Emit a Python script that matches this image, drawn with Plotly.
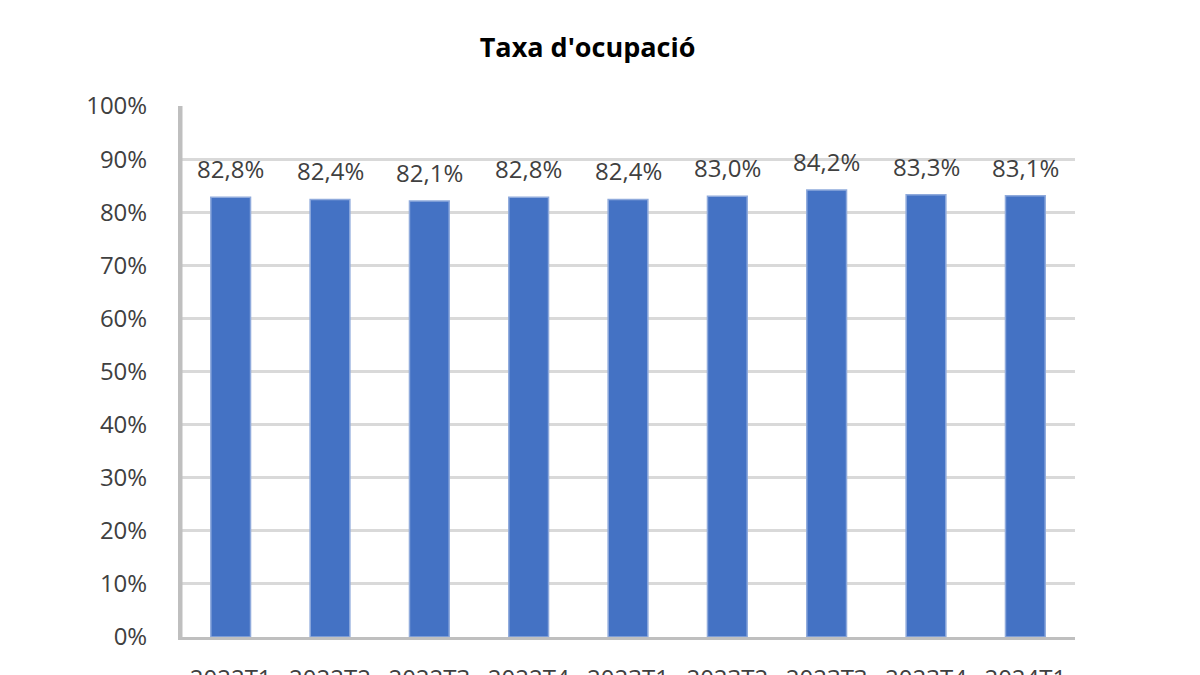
import plotly.graph_objects as go

categories = ["2022T1", "2022T2", "2022T3", "2022T4", "2023T1", "2023T2", "2023T3", "2023T4", "2024T1"]
values = [82.8, 82.4, 82.1, 82.8, 82.4, 83.0, 84.2, 83.3, 83.1]
labels = [f"{v:.1f}%".replace(".", ",") for v in values]
yticks = list(range(0, 101, 10))
ytick_text = [f"{t}%" for t in yticks]

FONT = "Open Sans"

fig = go.Figure(go.Bar(
    x=categories, y=values,
    marker=dict(color="#4472C4", line=dict(color="#8faadc", width=1.5)),
    hoverinfo="skip",
))

for c, v, t in zip(categories, values, labels):
    fig.add_annotation(x=c, y=v, text=t, showarrow=False, yanchor="bottom", yshift=10,
                       font=dict(size=24, color="#404040", family=FONT))

fig.update_layout(
    width=1200, height=675,
    paper_bgcolor="white", plot_bgcolor="white",
    margin=dict(l=173, r=133, t=98, b=46, autoexpand=False),
    bargap=0.6,
    showlegend=False,
    title=dict(text="<b>Taxa d'ocupació</b>", x=0.483, xanchor="center", y=1 - 40 / 675, yanchor="middle",
               font=dict(size=27, color="#000000", family=FONT)),
    font=dict(family=FONT, color="#404040"),
)
fig.update_yaxes(
    range=[0, 100], tickvals=yticks, ticktext=ytick_text,
    tickfont=dict(size=24, color="#404040"),
    showgrid=True, gridcolor="#d9d9d9", gridwidth=3,
    showline=True, linecolor="#bfbfbf", linewidth=3,
    ticks="", ticklabelstandoff=26, zeroline=False, automargin=False,
)
fig.update_xaxes(
    tickfont=dict(size=24, color="#404040"),
    showline=True, linecolor="#bfbfbf", linewidth=3, mirror=False,
    ticks="", ticklabelstandoff=18, automargin=False,
)
fig.add_shape(type="line", xref="paper", yref="paper", x0=0, x1=0, y0=0, y1=1,
              line=dict(color="#bfbfbf", width=3))
fig.write_html("out.html")
